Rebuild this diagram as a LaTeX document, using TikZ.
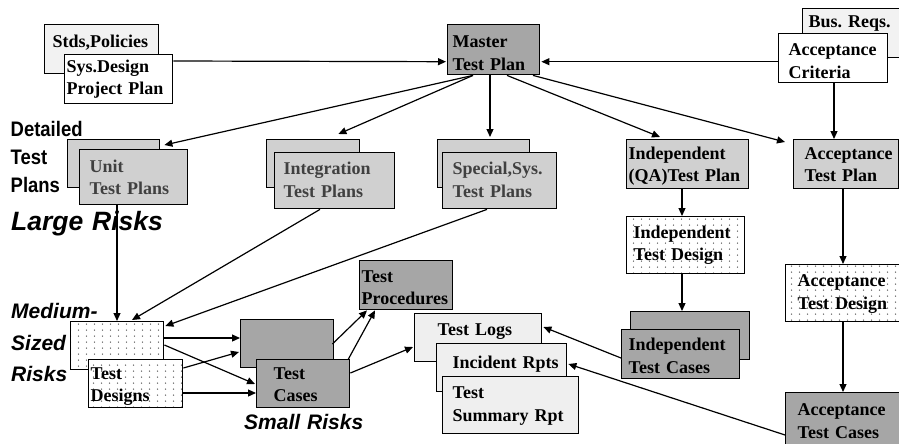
\documentclass[tikz,border=0pt]{standalone}
\usepackage{fontspec}
\setmainfont{Liberation Serif}
\newfontfamily\sansf{Liberation Sans}
\usepackage{graphicx}
\usetikzlibrary{arrows.meta,patterns}
\definecolor{lite}{HTML}{F2F2F2}
\definecolor{vlite}{HTML}{EFEFEF}
\definecolor{plan}{HTML}{D0D0D0}
\definecolor{dark}{HTML}{A6A6A6}
\definecolor{plantext}{HTML}{404040}
\pgfdeclarepatternformonly{mydots}{\pgfpointorigin}{\pgfpoint{7.5pt}{5.8pt}}{\pgfpoint{7.5pt}{5.8pt}}{\pgfpathcircle{\pgfpoint{3.75pt}{2.9pt}}{0.75pt}\pgfusepath{fill}}
\frenchspacing
\begin{document}
\begin{tikzpicture}[x=1pt,y=-1pt,
  box/.style={draw=black, line width=1.4pt, anchor=north west, inner ysep=0pt, text height=12pt, align=left, font=\bfseries\fontsize{18}{22.5}\selectfont},
  geo/.style n args={5}{minimum width=#1pt, minimum height=#2pt, inner xsep=#3pt, text width=#4pt, text depth=#5pt},
  plain/.style n args={2}{minimum width=#1pt, minimum height=#2pt},
  litebox/.style={box, fill=lite},
  whitebox/.style={box, fill=white},
  vlitebox/.style={box, fill=vlite},
  planbox/.style={box, fill=plan, text=plantext},
  darkbox/.style={box, fill=dark},
  dotbox/.style={box, preaction={fill=white}, pattern=mydots, pattern color=black!60},
  conn/.style={line width=1.2pt, -{Triangle[length=8pt,width=7pt]}},
  lab/.style={anchor=north west, inner sep=0pt, align=left, text width=160pt}]
\useasboundingbox (0,0) rectangle (899,444);

% top row
\node[litebox, geo={114}{49}{8}{98}{15}] (stds) at (44,24) {Stds,Policies};
\node[whitebox, geo={108}{49}{2}{104}{25.6}] (sys) at (64,54) {Sys.Design\\Project Plan};
\node[darkbox, geo={92}{50}{5}{82}{16}] (master) at (447,24) {Master\\Test Plan};
\node[litebox, geo={105}{49}{6}{93}{23.6}] (busreq) at (802,8) {Bus. Reqs.};
\node[whitebox, geo={109}{49}{10}{89}{17}] (accrit) at (778,33) {Acceptance\\Criteria};

% plans
\node[planbox, plain={92}{48}] (unitB) at (67,139) {};
\node[planbox, geo={108}{55}{10}{88}{21.6}] (unitF) at (79,149) {Unit\\Test Plans};
\node[planbox, plain={93}{48}] (intB) at (266,139) {};
\node[planbox, geo={120}{56}{9}{102}{24}] (intF) at (274,152) {Integration\\Test Plans};
\node[planbox, plain={92}{48}] (specB) at (437,139) {};
\node[planbox, geo={114}{56}{10}{94}{24}] (specF) at (442,152) {Special,Sys.\\Test Plans};
\node[box, fill=plan, geo={122}{49}{2}{118}{22.4}] (indQA) at (626,139) {Independent\\(QA)Test Plan};
\node[box, fill=plan, geo={105}{49}{11}{83}{22.4}] (accTP) at (793,139) {Acceptance\\Test Plan};

% independent / acceptance columns
\node[dotbox, geo={118}{57}{7}{104}{26.4}] (indTD) at (626,216) {Independent\\Test Design};
\node[darkbox, plain={119}{48}] (indTCB) at (630,311) {};
\node[darkbox, geo={118}{49}{7}{104}{19}] (indTCF) at (621,329) {Independent\\Test Cases};
\node[dotbox, geo={116}{57}{12}{92}{25}] (accTD) at (785,264) {Acceptance\\Test Design};
\node[darkbox, geo={120}{60}{12}{96}{26}] (accTC) at (785,392) {Acceptance\\Test Cases};

% lower middle
\node[darkbox, geo={93}{49}{2}{89}{17.6}] (testproc) at (359,260) {Test\\Procedures};
\node[vlitebox, geo={127}{48}{23}{81}{16}] (logs) at (414,313) {Test Logs};
\node[vlitebox, geo={130}{48}{16}{98}{11.4}] (incid) at (436,343) {Incident~Rpts};
\node[vlitebox, geo={136}{57}{10}{116}{25}] (summ) at (442,376) {Test\\Summary Rpt};
\node[darkbox, plain={93}{48}] (tcB) at (240,319) {};
\node[darkbox, geo={93}{48}{17}{59}{21.4}] (tcF) at (256,359) {Test\\Cases};
\node[dotbox, plain={93}{48}] (tdB) at (70,321) {};
\node[dotbox, geo={94}{48}{2}{90}{21.4}] (tdF) at (88,359) {Test\\Designs};

% side labels
\node[lab, text height=15pt, font=\sansf\bfseries\fontsize{21}{27.8}\selectfont] (det) at (10.5,121.7)
  {\scalebox{0.88}[1]{Detailed}\\\scalebox{0.88}[1]{Test}\\\scalebox{0.88}[1]{Plans}};
\node[lab, text height=19pt, font=\sansf\bfseries\itshape\fontsize{26.5}{32}\selectfont] (large) at (11,211) {Large Risks};
\node[lab, text height=15pt, font=\sansf\bfseries\itshape\fontsize{21}{31.7}\selectfont] (medium) at (11,303.3) {Medium-\\Sized\\Risks};
\node[lab, text height=15pt, font=\sansf\bfseries\itshape\fontsize{21}{26}\selectfont] (small) at (244,414) {Small Risks};

% connectors
\draw[conn] ([yshift=-7pt]sys.north east) -- ([xshift=-1pt,yshift=-12pt]master.west);
\draw[conn] ([yshift=-3.5pt]accrit.west) -- ([xshift=1pt,yshift=-12pt]master.east);
\draw[conn] ([xshift=26pt]master.south west) -- ([xshift=4pt,yshift=-6pt]unitB.north east);
\draw[conn] ([xshift=26pt]master.south west) -- ([xshift=-22pt,yshift=5pt]intB.north east);
\draw[conn] ([xshift=43pt]master.south west) -- ([xshift=53pt,yshift=2pt]specB.north west);
\draw[conn] ([xshift=60pt]master.south west) -- ([xshift=34pt,yshift=2pt]indQA.north west);
\draw[conn] ([xshift=86pt]master.south west) -- ([xshift=-8pt,yshift=-3pt]accTP.north west);
\draw[conn] ([xshift=56pt]accrit.south west) -- ([xshift=41pt]accTP.north west);
\draw[conn] ([xshift=38pt]unitF.south west) -- ([xshift=47pt]tdB.north west);
\draw[conn] ([xshift=46pt]intF.south west) -- ([xshift=62pt,yshift=1pt]tdB.north west);
\draw[conn] ([xshift=45pt]specF.south west) -- ([xshift=1pt,yshift=-5pt]tdB.north east);
\draw[conn] ([yshift=-17pt]tdB.north east) -- ([yshift=-19pt]tcB.north west);
\draw[conn] ([yshift=-24pt]tdB.north east) -- ([xshift=-1pt,yshift=-25pt]tcF.north west);
\draw[conn] ([yshift=-9pt]tdF.north east) -- ([xshift=-1pt,yshift=-33pt]tcB.north west);
\draw[conn] ([yshift=-34pt]tdF.north east) -- ([yshift=-34pt]tcF.north west);
\draw[conn] ([xshift=-2pt,yshift=-25pt]tcB.north east) -- ([xshift=8pt]testproc.south west);
\draw[conn] ([xshift=-2pt]tcF.north east) -- ([xshift=16pt]testproc.south west);
\draw[conn] ([yshift=-14pt]tcF.north east) -- ([xshift=-1pt,yshift=-34pt]logs.north west);
\draw[conn] ([yshift=-29pt]indTCF.north west) -- ([xshift=1pt,yshift=-14pt]logs.north east);
\draw[conn] ([yshift=-43pt]accTC.north west) -- ([xshift=1pt,yshift=-21pt]incid.north east);
\draw[conn] ([xshift=56pt]indQA.south west) -- ([xshift=56pt]indTD.north west);
\draw[conn] ([xshift=56pt]indTD.south west) -- ([xshift=52pt]indTCB.north west);
\draw[conn] ([xshift=50pt]accTP.south west) -- ([xshift=58pt]accTD.north west);
\draw[conn] ([xshift=58pt]accTD.south west) -- ([xshift=58pt]accTC.north west);
\end{tikzpicture}
\end{document}
